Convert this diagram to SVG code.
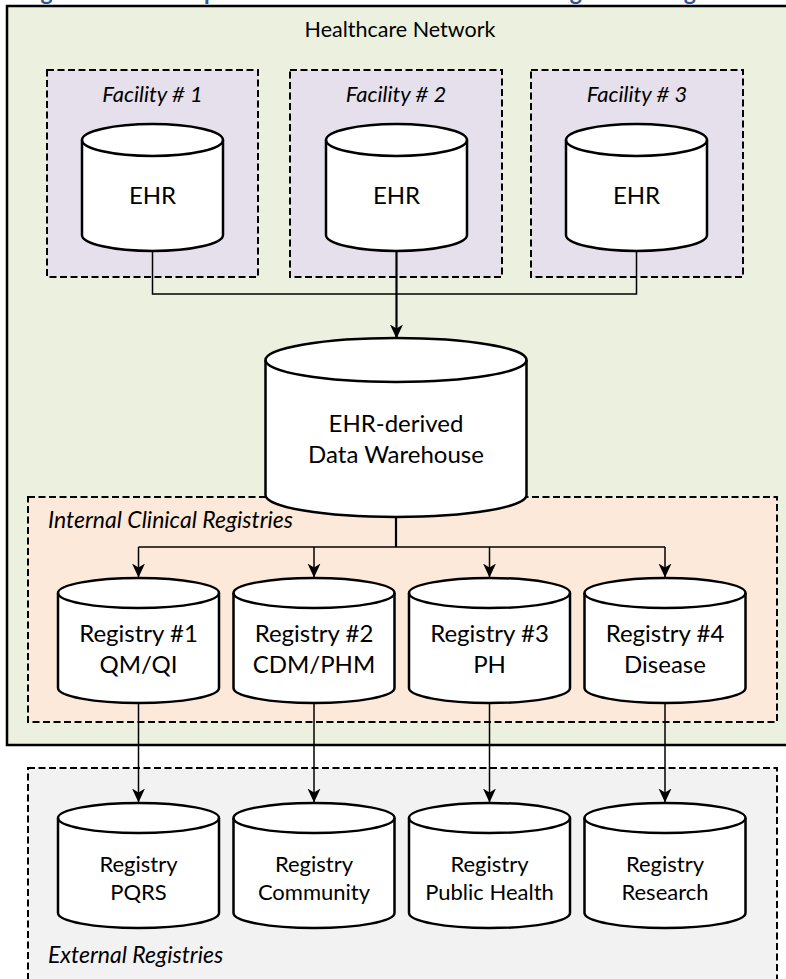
<svg xmlns="http://www.w3.org/2000/svg" width="786" height="979" viewBox="0 0 786 979">
  <style>
    .frame { fill: #EBF1DE; stroke: #000; stroke-width: 2.5; }
    .facility { fill: #E5E0EC; stroke: #000; stroke-width: 2; stroke-dasharray: 7 3.5; }
    .internal { fill: #FDE9D9; stroke: #000; stroke-width: 2; stroke-dasharray: 7 3.5; }
    .external { fill: #F2F2F2; stroke: #000; stroke-width: 2; stroke-dasharray: 7 3.5; }
    .db { fill: #fff; stroke: #000; stroke-width: 2.5; stroke-linejoin: round; }
    .rim { fill: none; stroke: #000; stroke-width: 2.5; }
    .link { fill: none; stroke: #000; stroke-width: 1.5; }
    .trunk { fill: none; stroke: #000; stroke-width: 2.2; }
    text { font-family: Lato, "Liberation Sans", sans-serif; fill: #000; }
    .lbl { font-size: 24px; text-anchor: middle; }
    .ext { font-size: 22px; text-anchor: middle; }
    .grp { font-size: 23px; font-style: italic; }
    .cap { font-size: 22px; font-style: italic; text-anchor: middle; }
    .title { font-size: 23px; font-weight: bold; fill: #2F5597; }
  </style>
  <defs>
    <marker id="arrow" markerUnits="userSpaceOnUse" markerWidth="14" markerHeight="14" viewBox="0 0 14 14" refX="13.5" refY="7" orient="auto">
      <path d="M0,0.5 L14,7 L0,13.5 L4,7 Z" fill="#000"/>
    </marker>
  </defs>

  <!-- figure heading, mostly above the page edge -->
  <text class="title" x="18" y="-0.5" textLength="752" lengthAdjust="spacing">Figure 1. Conceptual Architecture of EHR-Integrated Registries</text>

  <!-- containers -->
  <g id="healthcare-network">
    <rect class="frame" x="7" y="6" width="800" height="739"/>
    <text class="lbl" x="400" y="37" style="font-size:21.5px">Healthcare Network</text>
  </g>
  <g id="facility-1">
    <rect class="facility" x="47" y="70" width="211" height="207"/>
    <text class="cap" x="152.5" y="102">Facility # 1</text>
  </g>
  <g id="facility-2">
    <rect class="facility" x="290" y="70" width="212" height="207"/>
    <text class="cap" x="396" y="102">Facility # 2</text>
  </g>
  <g id="facility-3">
    <rect class="facility" x="531" y="70" width="212" height="207"/>
    <text class="cap" x="637" y="102">Facility # 3</text>
  </g>
  <g id="internal-registries">
    <rect class="internal" x="28" y="497" width="749" height="225"/>
    <text class="grp" x="48" y="528">Internal Clinical Registries</text>
  </g>
  <g id="external-registries">
    <rect class="external" x="28" y="768" width="749" height="260"/>
    <text class="grp" x="48" y="963">External Registries</text>
  </g>

  <!-- connectors -->
  <g id="connectors">
    <path class="link" d="M152.5,251 V294 H636.5 V251"/>
    <path class="trunk" d="M396.5,251 V338" marker-end="url(#arrow)"/>
    <path class="trunk" d="M396,517 V547"/>
    <path class="link" d="M138.5,547 H665"/>
    <path class="link" d="M138.5,547 V577" marker-end="url(#arrow)"/>
    <path class="link" d="M314,547 V577" marker-end="url(#arrow)"/>
    <path class="link" d="M489.5,547 V577" marker-end="url(#arrow)"/>
    <path class="link" d="M665,547 V577" marker-end="url(#arrow)"/>
    <path class="link" d="M138.5,703 V802" marker-end="url(#arrow)"/>
    <path class="link" d="M314,703 V802" marker-end="url(#arrow)"/>
    <path class="link" d="M489.5,703 V802" marker-end="url(#arrow)"/>
    <path class="link" d="M665,703 V802" marker-end="url(#arrow)"/>
  </g>

  <!-- EHR cylinders -->
  <g id="ehr-1">
    <path class="db" d="M82,140 A70.5,16 0 0 1 223,140 V235 A70.5,16 0 0 1 82,235 Z"/>
    <path class="rim" d="M82,140 A70.5,16 0 0 0 223,140"/>
    <text class="lbl" x="152.5" y="204">EHR</text>
  </g>
  <g id="ehr-2">
    <path class="db" d="M326,140 A70.5,16 0 0 1 467,140 V235 A70.5,16 0 0 1 326,235 Z"/>
    <path class="rim" d="M326,140 A70.5,16 0 0 0 467,140"/>
    <text class="lbl" x="396.5" y="204">EHR</text>
  </g>
  <g id="ehr-3">
    <path class="db" d="M566,140 A70.5,16 0 0 1 707,140 V235 A70.5,16 0 0 1 566,235 Z"/>
    <path class="rim" d="M566,140 A70.5,16 0 0 0 707,140"/>
    <text class="lbl" x="636.5" y="204">EHR</text>
  </g>

  <!-- data warehouse -->
  <g id="data-warehouse">
    <path class="db" d="M265.5,360 A130.5,22 0 0 1 526.5,360 V495 A130.5,22 0 0 1 265.5,495 Z"/>
    <path class="rim" d="M265.5,360 A130.5,22 0 0 0 526.5,360"/>
    <text class="lbl" x="396" y="432">EHR-derived</text>
    <text class="lbl" x="396" y="463">Data Warehouse</text>
  </g>

  <!-- internal registries -->
  <g id="registry-1">
    <path class="db" d="M58,593 A80.5,15 0 0 1 219,593 V688 A80.5,15 0 0 1 58,688 Z"/>
    <path class="rim" d="M58,593 A80.5,15 0 0 0 219,593"/>
    <text class="lbl" x="138.5" y="642">Registry #1</text>
    <text class="lbl" x="138.5" y="673">QM/QI</text>
  </g>
  <g id="registry-2">
    <path class="db" d="M233.5,593 A80.5,15 0 0 1 394.5,593 V688 A80.5,15 0 0 1 233.5,688 Z"/>
    <path class="rim" d="M233.5,593 A80.5,15 0 0 0 394.5,593"/>
    <text class="lbl" x="314" y="642">Registry #2</text>
    <text class="lbl" x="314" y="673">CDM/PHM</text>
  </g>
  <g id="registry-3">
    <path class="db" d="M409,593 A80.5,15 0 0 1 570,593 V688 A80.5,15 0 0 1 409,688 Z"/>
    <path class="rim" d="M409,593 A80.5,15 0 0 0 570,593"/>
    <text class="lbl" x="489.5" y="642">Registry #3</text>
    <text class="lbl" x="489.5" y="673">PH</text>
  </g>
  <g id="registry-4">
    <path class="db" d="M584.5,593 A80.5,15 0 0 1 745.5,593 V688 A80.5,15 0 0 1 584.5,688 Z"/>
    <path class="rim" d="M584.5,593 A80.5,15 0 0 0 745.5,593"/>
    <text class="lbl" x="665" y="642">Registry #4</text>
    <text class="lbl" x="665" y="673">Disease</text>
  </g>

  <!-- external registries -->
  <g id="registry-pqrs">
    <path class="db" d="M58,818 A80.5,15 0 0 1 219,818 V913 A80.5,15 0 0 1 58,913 Z"/>
    <path class="rim" d="M58,818 A80.5,15 0 0 0 219,818"/>
    <text class="ext" x="138.5" y="872">Registry</text>
    <text class="ext" x="138.5" y="899.5">PQRS</text>
  </g>
  <g id="registry-community">
    <path class="db" d="M233.5,818 A80.5,15 0 0 1 394.5,818 V913 A80.5,15 0 0 1 233.5,913 Z"/>
    <path class="rim" d="M233.5,818 A80.5,15 0 0 0 394.5,818"/>
    <text class="ext" x="314" y="872">Registry</text>
    <text class="ext" x="314" y="899.5">Community</text>
  </g>
  <g id="registry-public-health">
    <path class="db" d="M409,818 A80.5,15 0 0 1 570,818 V913 A80.5,15 0 0 1 409,913 Z"/>
    <path class="rim" d="M409,818 A80.5,15 0 0 0 570,818"/>
    <text class="ext" x="489.5" y="872">Registry</text>
    <text class="ext" x="489.5" y="899.5">Public Health</text>
  </g>
  <g id="registry-research">
    <path class="db" d="M584.5,818 A80.5,15 0 0 1 745.5,818 V913 A80.5,15 0 0 1 584.5,913 Z"/>
    <path class="rim" d="M584.5,818 A80.5,15 0 0 0 745.5,818"/>
    <text class="ext" x="665" y="872">Registry</text>
    <text class="ext" x="665" y="899.5">Research</text>
  </g>
</svg>
